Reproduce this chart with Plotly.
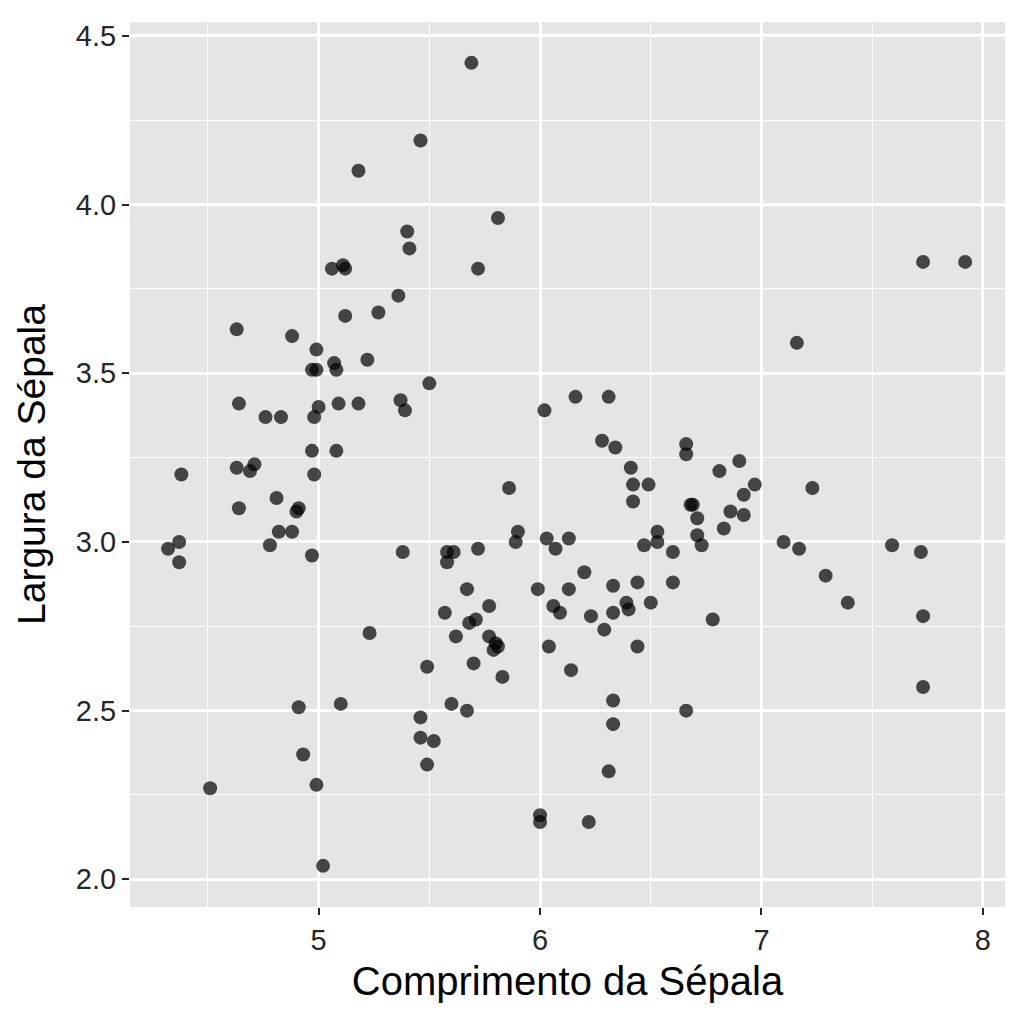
import plotly.graph_objects as go

# sepal length / width
sepal_length = [
    4.32, 4.37, 4.37, 4.38, 4.51, 4.63, 4.64, 4.63, 4.64, 4.69,
    4.71, 4.78, 4.76, 4.83, 4.81, 4.82, 4.88, 4.88, 4.90, 4.91,
    4.91, 4.93, 4.97, 4.99, 4.97, 4.98, 4.97, 4.99, 4.99, 5.00,
    4.98, 5.02, 5.06, 5.11, 5.12, 5.07, 5.08, 5.09, 5.08, 5.12,
    5.10, 5.18, 5.18, 5.22, 5.23, 5.27, 5.36, 5.37, 5.39, 5.38,
    5.40, 5.41, 5.46, 5.46, 5.46, 5.52, 5.49, 5.49, 5.50, 5.57,
    5.58, 5.58, 5.61, 5.60, 5.67, 5.67, 5.69, 5.68, 5.71, 5.72,
    5.70, 5.72, 5.62, 5.77, 5.77, 5.80, 5.81, 5.79, 5.81, 5.86,
    5.83, 5.90, 5.89, 5.99, 6.00, 6.00, 6.02, 6.03, 6.04, 6.06,
    6.07, 6.09, 6.13, 6.13, 6.14, 6.16, 6.20, 6.22, 6.23, 6.28,
    6.29, 6.31, 6.31, 6.34, 6.33, 6.33, 6.33, 6.33, 6.39, 6.40,
    6.41, 6.42, 6.42, 6.44, 6.44, 6.47, 6.49, 6.50, 6.53, 6.53,
    6.60, 6.60, 6.66, 6.66, 6.66, 6.68, 6.69, 6.71, 6.71, 6.73,
    6.78, 6.81, 6.83, 6.86, 6.90, 6.92, 6.92, 6.97, 7.10, 7.16,
    7.17, 7.23, 7.29, 7.39, 7.59, 7.72, 7.73, 7.73, 7.73, 7.92,
]
sepal_width = [
    2.98, 3.00, 2.94, 3.20, 2.27, 3.63, 3.41, 3.22, 3.10, 3.21,
    3.23, 2.99, 3.37, 3.37, 3.13, 3.03, 3.61, 3.03, 3.09, 3.10,
    2.51, 2.37, 3.51, 3.51, 3.27, 3.20, 2.96, 2.28, 3.57, 3.40,
    3.37, 2.04, 3.81, 3.82, 3.81, 3.53, 3.51, 3.41, 3.27, 3.67,
    2.52, 4.10, 3.41, 3.54, 2.73, 3.68, 3.73, 3.42, 3.39, 2.97,
    3.92, 3.87, 4.19, 2.48, 2.42, 2.41, 2.34, 2.63, 3.47, 2.79,
    2.94, 2.97, 2.97, 2.52, 2.50, 2.86, 4.42, 2.76, 2.77, 3.81,
    2.64, 2.98, 2.72, 2.81, 2.72, 2.70, 2.69, 2.68, 3.96, 3.16,
    2.60, 3.03, 3.00, 2.86, 2.19, 2.17, 3.39, 3.01, 2.69, 2.81,
    2.98, 2.79, 3.01, 2.86, 2.62, 3.43, 2.91, 2.17, 2.78, 3.30,
    2.74, 2.32, 3.43, 3.28, 2.87, 2.79, 2.53, 2.46, 2.82, 2.80,
    3.22, 3.17, 3.12, 2.88, 2.69, 2.99, 3.17, 2.82, 3.03, 3.00,
    2.97, 2.88, 3.29, 3.26, 2.50, 3.11, 3.11, 3.07, 3.02, 2.99,
    2.77, 3.21, 3.04, 3.09, 3.24, 3.14, 3.08, 3.17, 3.00, 3.59,
    2.98, 3.16, 2.90, 2.82, 2.99, 2.97, 2.78, 2.57, 3.83, 3.83,
]

x_ticks = [5, 6, 7, 8]
y_ticks = [2.0, 2.5, 3.0, 3.5, 4.0, 4.5]

fig = go.Figure()
fig.add_trace(go.Scatter(
    x=sepal_length, y=sepal_width, mode='markers',
    marker=dict(size=14, color='rgba(0,0,0,0.7)', line_width=0),
    showlegend=False
))

# page body adds ~8px offset, margins compensate
fig.update_layout(
    width=1024, height=1024,
    margin=dict(l=122, r=27, t=12, b=125),
    paper_bgcolor='white',
    plot_bgcolor='#e5e5e5',
    font=dict(family='Liberation Sans, Arial, sans-serif', color='black')
)

fig.update_xaxes(
    title_text='Comprimento da Sépala',
    title_font=dict(size=40, color='black'),
    title_standoff=12,
    range=[4.148, 8.10],
    tickvals=x_ticks, ticktext=[str(v) for v in x_ticks],
    tickfont=dict(size=29, color='#262626'),
    ticks='outside', ticklen=7, tickwidth=2.4, tickcolor='#262626',
    showgrid=True, gridcolor='white', gridwidth=2.8,
    minor=dict(tick0=4.5, dtick=1, showgrid=True, gridcolor='white', gridwidth=1.4),
    zeroline=False, showline=False
)
fig.update_yaxes(
    title_text='Largura da Sépala',
    title_font=dict(size=39, color='black'),
    title_standoff=18,
    range=[1.918, 4.541],
    tickvals=y_ticks, ticktext=['%.1f' % v for v in y_ticks],
    tickfont=dict(size=29, color='#262626'),
    ticks='outside', ticklen=7, tickwidth=2.4, tickcolor='#262626',
    showgrid=True, gridcolor='white', gridwidth=2.8,
    minor=dict(tick0=2.25, dtick=0.5, showgrid=True, gridcolor='white', gridwidth=1.4),
    zeroline=False, showline=False
)

fig.write_html("out.html")
